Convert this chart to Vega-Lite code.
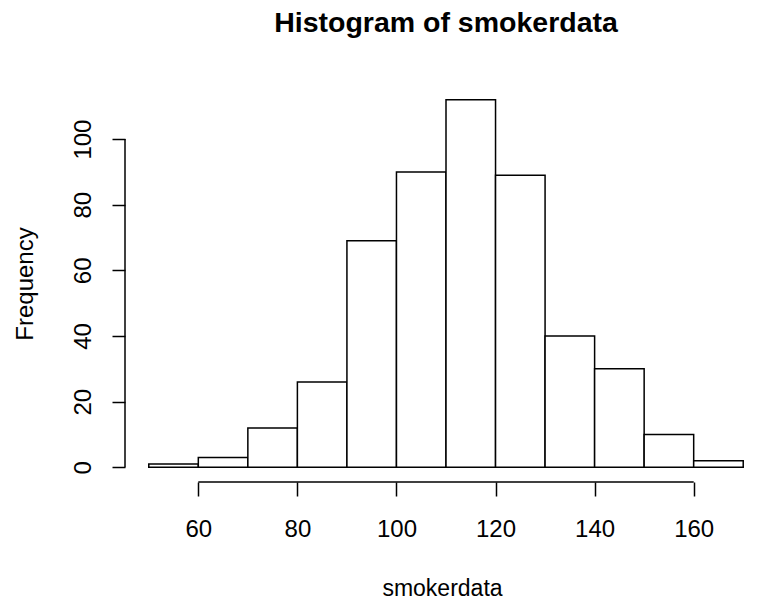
{
  "$schema": "https://vega.github.io/schema/vega-lite/v6.json",
  "autosize": {"type": "none"},
  "padding": {"left": 125, "top": 85, "right": 7, "bottom": 122},
  "width": 642,
  "height": 397,
  "background": "white",
  "config": {
    "font": "Liberation Sans",
    "view": {"stroke": null},
    "axis": {"grid": false, "domain": false, "tickColor": "black", "tickWidth": 1.5, "labelColor": "black", "titleColor": "black", "labelFont": "Liberation Sans", "titleFont": "Liberation Sans", "titleFontWeight": "normal"}
  },
  "title": {
    "text": "Histogram of smokerdata",
    "font": "Liberation Sans",
    "fontSize": 28.5,
    "fontWeight": "bold",
    "color": "black",
    "anchor": "middle",
    "baseline": "alphabetic",
    "offset": 25
  },
  "datasets": {
    "bins": [
      {"bin_start": 50, "bin_end": 60, "count": 1},
      {"bin_start": 60, "bin_end": 70, "count": 3},
      {"bin_start": 70, "bin_end": 80, "count": 12},
      {"bin_start": 80, "bin_end": 90, "count": 26},
      {"bin_start": 90, "bin_end": 100, "count": 69},
      {"bin_start": 100, "bin_end": 110, "count": 90},
      {"bin_start": 110, "bin_end": 120, "count": 112},
      {"bin_start": 120, "bin_end": 130, "count": 89},
      {"bin_start": 130, "bin_end": 140, "count": 40},
      {"bin_start": 140, "bin_end": 150, "count": 30},
      {"bin_start": 150, "bin_end": 160, "count": 10},
      {"bin_start": 160, "bin_end": 170, "count": 2}
    ],
    "xaxis": [{"from": 60, "to": 160}],
    "yaxis": [{"from": 0, "to": 100}]
  },
  "layer": [
    {
      "data": {"name": "bins"},
      "mark": {"type": "rect", "fill": "white", "stroke": "black", "strokeWidth": 1.5},
      "encoding": {
        "x": {
          "field": "bin_start", "type": "quantitative",
          "scale": {"domain": [45.2, 174.8], "nice": false, "zero": false},
          "axis": {
            "values": [60, 80, 100, 120, 140, 160],
            "tickSize": 14,
            "labelFontSize": 24,
            "labelPadding": 40,
            "labelBaseline": "alphabetic",
            "labelFlush": false,
            "labelOverlap": false,
            "title": "smokerdata",
            "titleFontSize": 23,
            "titleBaseline": "alphabetic",
            "titleY": 113,
            "titleX": 317,
            "titleAnchor": null
          }
        },
        "x2": {"field": "bin_end"},
        "y": {
          "field": "count", "type": "quantitative",
          "scale": {"domain": [-4.48, 116.48], "nice": false, "zero": false},
          "axis": {
            "values": [0, 20, 40, 60, 80, 100],
            "tickSize": 13,
            "labelFontSize": 24,
            "labelAngle": -90,
            "labelAlign": "center",
            "labelBaseline": "alphabetic",
            "labelPadding": 22,
            "labelFlush": false,
            "labelOverlap": false,
            "title": "Frequency",
            "titleFontSize": 24,
            "titleAngle": -90,
            "titleAlign": "center",
            "titleBaseline": "alphabetic",
            "titleX": -93,
            "titleY": 198.5
          }
        },
        "y2": {"datum": 0}
      }
    },
    {
      "data": {"name": "xaxis"},
      "mark": {"type": "rule", "color": "black", "strokeWidth": 1.5},
      "encoding": {
        "x": {"field": "from", "type": "quantitative"},
        "x2": {"field": "to"},
        "y": {"datum": -4.48}
      }
    },
    {
      "data": {"name": "yaxis"},
      "mark": {"type": "rule", "color": "black", "strokeWidth": 1.5},
      "encoding": {
        "y": {"field": "from", "type": "quantitative"},
        "y2": {"field": "to"},
        "x": {"datum": 45.2}
      }
    }
  ]
}
